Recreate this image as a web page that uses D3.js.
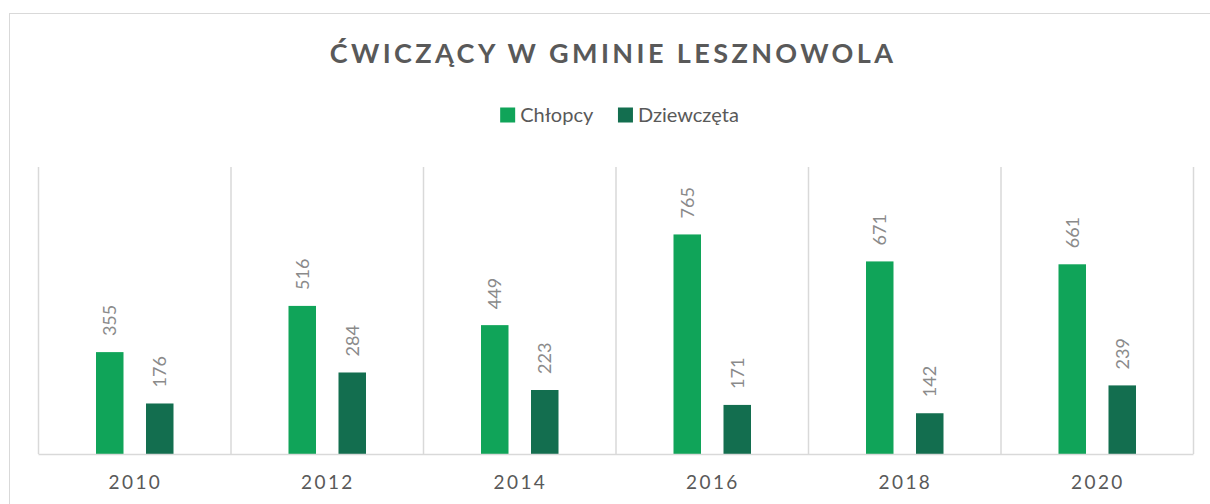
<!DOCTYPE html>
<html>
<head>
<meta charset="utf-8">
<script src="https://cdn.jsdelivr.net/npm/d3@7"></script>
<style>
  body { margin: 0; background: #fff; }
  svg { display: block; font-family: Lato, "Open Sans", sans-serif; }
</style>
</head>
<body>
<svg id="chart" width="1210" height="504"></svg>
<script>
const years = ["2010", "2012", "2014", "2016", "2018", "2020"];
const seriesNames = ["Chłopcy", "Dziewczęta"];
const chlopcy = [355, 516, 449, 765, 671, 661];
const dziewczeta = [176, 284, 223, 171, 142, 239];
const colors = ["#10a459", "#136e4f"];

const svg = d3.select("#chart");
const plot = { left: 38, right: 1193, top: 167, bottom: 454 };

// outer chart frame (runs off the right and bottom edge)
svg.append("rect")
  .attr("x", 9.5).attr("y", 13.5)
  .attr("width", 1400).attr("height", 700)
  .attr("fill", "none").attr("stroke", "#d9d9d9");

const x = d3.scaleBand().domain(years).range([plot.left, plot.right]);
const x1 = d3.scalePoint().domain(seriesNames).range([-24.5, 25.5]);
const y = d3.scaleLinear().domain([0, 1000]).range([plot.bottom, plot.top]);

const rows = years.map((yr, i) => ({ year: yr, values: [chlopcy[i], dziewczeta[i]] }));

// vertical separators between categories
const bounds = years.map(d => x(d)).concat([x(years[years.length - 1]) + x.bandwidth()]);
svg.append("g").selectAll("line")
  .data(bounds)
  .enter().append("line")
  .attr("x1", d => d + 0.5).attr("x2", d => d + 0.5)
  .attr("y1", plot.top).attr("y2", plot.bottom)
  .attr("stroke", "#d9d9d9").attr("stroke-width", 1.5);

const barW = 27.5;
const groups = svg.append("g").selectAll("g")
  .data(rows)
  .enter().append("g")
  .attr("transform", d => `translate(${x(d.year) + x.bandwidth() / 2},0)`);

const bars = groups.selectAll("g")
  .data(d => d.values.map((v, i) => ({ name: seriesNames[i], value: v, i })))
  .enter().append("g");

bars.append("rect")
  .attr("x", d => x1(d.name) - barW / 2)
  .attr("width", barW)
  .attr("y", d => y(d.value))
  .attr("height", d => y(0) - y(d.value))
  .attr("fill", d => colors[d.i]);

bars.append("text")
  .attr("transform", d => `translate(${x1(d.name)},${y(d.value) - 16}) rotate(-90)`)
  .attr("dy", "0.35em")
  .attr("font-size", 18)
  .attr("fill", "#8a8a8a")
  .text(d => d.value);

// x axis
const xAxis = svg.append("g")
  .attr("transform", `translate(0,${plot.bottom})`)
  .call(d3.axisBottom(x).tickSize(0).tickPadding(22));
xAxis.select(".domain").attr("stroke", "#d9d9d9").attr("stroke-width", 1.5);
xAxis.selectAll("text")
  .attr("font-family", "Lato, 'Open Sans', sans-serif")
  .attr("font-size", 19)
  .attr("letter-spacing", 2.4)
  .attr("fill", "#595959")
  .attr("dx", 1.2);

// title
svg.append("text")
  .attr("x", 613).attr("y", 63)
  .attr("text-anchor", "middle")
  .attr("font-size", 27)
  .attr("font-weight", "bold")
  .attr("letter-spacing", 3.4)
  .attr("fill", "#595959")
  .text("ĆWICZĄCY W GMINIE LESZNOWOLA");

// legend
const legend = svg.append("g");
const items = legend.selectAll("g")
  .data(seriesNames)
  .enter().append("g");
items.append("rect")
  .attr("width", 15).attr("height", 15)
  .attr("y", -7.5)
  .attr("fill", (d, i) => colors[i]);
items.append("text")
  .attr("x", 20)
  .attr("dy", "0.35em")
  .attr("font-size", 20)
  .attr("fill", "#595959")
  .text(d => d);
let off = 0;
items.each(function () {
  d3.select(this).attr("transform", `translate(${off},0)`);
  off += this.getBBox().width + 24;
});
const legendW = off - 24;
legend.attr("transform", `translate(${619.5 - legendW / 2},115)`);
</script>
</body>
</html>
